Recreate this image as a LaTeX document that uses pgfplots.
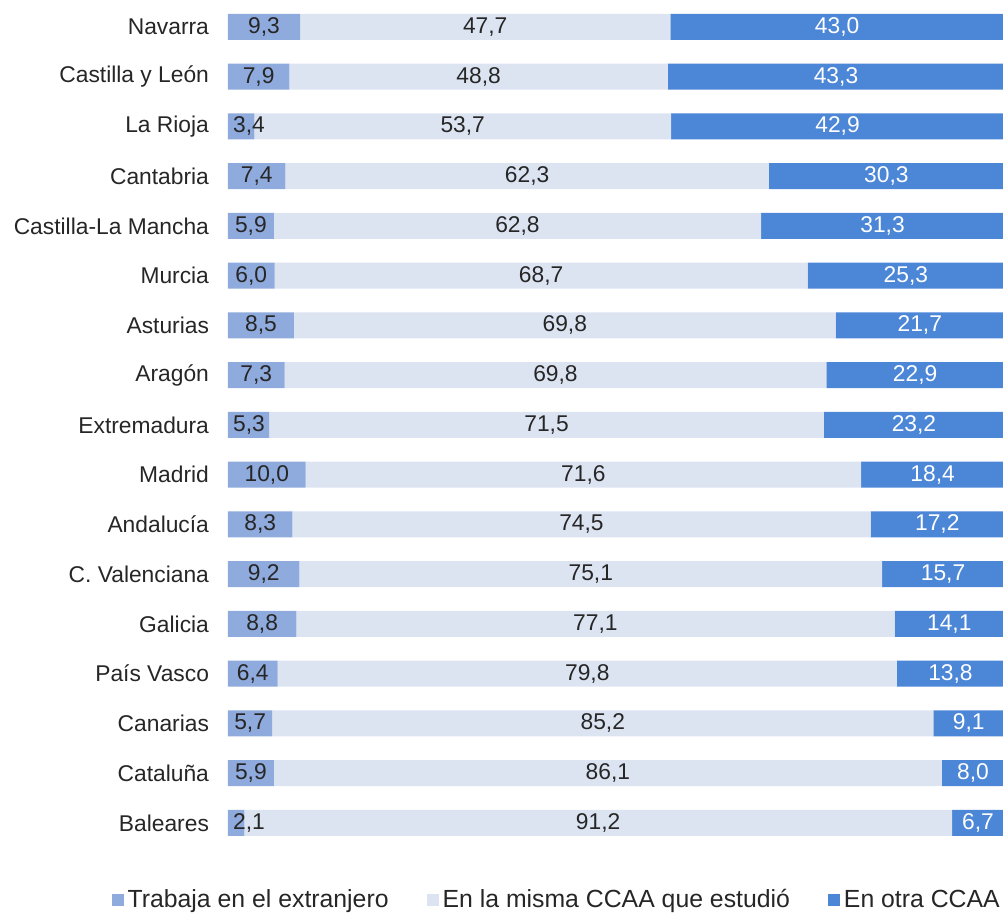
\documentclass[border=0pt]{standalone}
\usepackage{pgfplots}
\pgfplotsset{compat=1.18}
\usepackage{pgfplotstable}
\usepackage{fontspec}
\setmainfont{Liberation Sans}
\definecolor{c1}{RGB}{143,170,220}
\definecolor{c2}{RGB}{220,228,242}
\definecolor{c3}{RGB}{76,134,215}
\definecolor{txt}{RGB}{38,38,38}
\pgfplotstableread{
y a b c
0 9.3 47.7 43.0
1 7.9 48.8 43.3
2 3.4 53.7 42.9
3 7.4 62.3 30.3
4 5.9 62.8 31.3
5 6.0 68.7 25.3
6 8.5 69.8 21.7
7 7.3 69.8 22.9
8 5.3 71.5 23.2
9 10.0 71.6 18.4
10 8.3 74.5 17.2
11 9.2 75.1 15.7
12 8.8 77.1 14.1
13 6.4 79.8 13.8
14 5.7 85.2 9.1
15 5.9 86.1 8.0
16 2.1 91.2 6.7
}\datatable
\pgfplotsset{
  sqlegend/.style={legend image code/.code={\fill[##1] (-2pt,-3pt) rectangle (4pt,3pt);}},
}
\begin{document}
\begin{tikzpicture}
\begin{axis}[
  at={(114pt,33.6pt)}, anchor=south west,
  scale only axis, width=388pt, height=422.9pt,
  xmin=0, xmax=100, ymin=-0.5, ymax=16.5, y dir=reverse,
  xbar stacked, bar width=13pt,
  hide x axis,
  axis lines=left, axis line style={draw=none,-},
  ytick={0,...,16},
  yticklabels={Navarra,Castilla y León,La Rioja,Cantabria,Castilla-La Mancha,Murcia,Asturias,Aragón,Extremadura,Madrid,Andalucía,C. Valenciana,Galicia,País Vasco,Canarias,Cataluña,Baleares},
  major tick length=0pt,
  yticklabel style={font=\fontsize{11.4}{13}\selectfont, text=txt, xshift=-6pt},
  nodes near coords,
  point meta=explicit,
  nodes near coords style={font=\fontsize{11.4}{13}\selectfont, anchor=center,
     /pgf/number format/fixed, /pgf/number format/fixed zerofill, /pgf/number format/precision=1,
     /pgf/number format/use comma, /pgf/number format/assume math mode=true},
  legend columns=3,
  legend style={draw=none, fill=none, at={(-0.1582,-0.0617)}, anchor=west,
     font=\fontsize{12.4}{14}\selectfont, text=txt,
     /tikz/every even column/.append style={column sep=17pt}},
]
\addplot[fill=c1, draw=none, sqlegend,
  visualization depends on={\thisrow{a} \as \rawx},
  nodes near coords style={text=txt, xshift={max(0,10.5-1.94*\rawx)*1pt}}]
  table[x=a, y=y, meta=a] {\datatable};
\addplot[fill=c2, draw=none, sqlegend, nodes near coords style={text=txt}]
  table[x=b, y=y, meta=b] {\datatable};
\addplot[fill=c3, draw=none, sqlegend, nodes near coords style={text=white}]
  table[x=c, y=y, meta=c] {\datatable};
\legend{Trabaja en el extranjero, En la misma CCAA que estudió, En otra CCAA}
\end{axis}
\pgfresetboundingbox
\useasboundingbox (0,0) rectangle (501.5pt,457.5pt);
\end{tikzpicture}
\end{document}
